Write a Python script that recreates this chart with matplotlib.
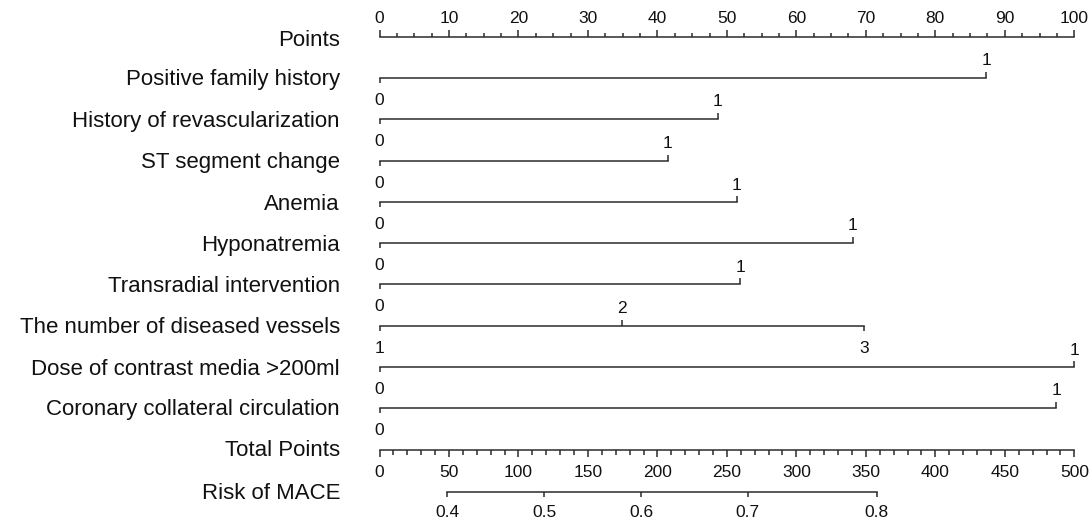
import matplotlib
matplotlib.use("Agg")
import matplotlib.pyplot as plt

plt.rcParams['font.family'] = ['Liberation Sans', 'DejaVu Sans']

# Predictors, their levels and the points
variables = [
    'Positive family history',
    'History of revascularization',
    'ST segment change',
    'Anemia',
    'Hyponatremia',
    'Transradial intervention',
    'The number of diseased vessels',
    'Dose of contrast media >200ml',
    'Coronary collateral circulation',
]
level_labels = [
    ['0', '1'],
    ['0', '1'],
    ['0', '1'],
    ['0', '1'],
    ['0', '1'],
    ['0', '1'],
    ['1', '2', '3'],
    ['0', '1'],
    ['0', '1'],
]
level_points = [
    [0, 87.3],
    [0, 48.7],
    [0, 41.5],
    [0, 51.4],
    [0, 68.1],
    [0, 51.9],
    [0, 34.9, 69.7],
    [0, 100],
    [0, 97.4],
]

points_ticks = list(range(0, 101, 10))
total_ticks = list(range(0, 501, 50))
total_max = 500
risk_labels = ['0.4', '0.5', '0.6', '0.7', '0.8']
risk_total_points = [48.8, 118.6, 188.2, 264.9, 357.8]

# layout (pixel rows, top down)
W, H = 1092, 520
x0_px, x100_px = 379.5, 1074.3
ppx = (x100_px - x0_px) / 100.0
y_points = 37
y_rows = [77.7, 119, 160.7, 202, 243, 284.2, 325.7, 367.3, 407.7]
y_total = 450
y_risk = 491.7
label_x = -(x0_px - 340) / ppx

col = '#2b2b2b'
txt = '#111111'
lw = 1.1
fs_lab = 16
fs_num = 12.5

fig = plt.figure(figsize=(W / 100, H / 100), dpi=100)
ax = fig.add_axes([0, 0, 1, 1])
ax.set_xlim(-x0_px / ppx, (W - x0_px) / ppx)
ax.set_ylim(H, 0)
ax.axis('off')


def row_label(y, text, off=7.5):
    ax.text(label_x, y + off, text, ha='right', va='baseline', fontsize=fs_lab, color=txt)


def tick(x, y, length):
    ax.plot([x, x], [y, y + length], color=col, lw=lw, solid_capstyle='butt')


# Points axis
row_label(y_points, 'Points', off=9)
ax.plot([0, 100], [y_points, y_points], color=col, lw=lw)
for i in range(41):
    v = i * 2.5
    tick(v, y_points, -7 if i % 4 == 0 else -4.5)
for v in points_ticks:
    ax.text(v, y_points - 14, str(v), ha='center', va='baseline', fontsize=fs_num, color=txt)

# Predictor rows
for name, labs, pts, y in zip(variables, level_labels, level_points, y_rows):
    row_label(y, name)
    ax.plot([min(pts), max(pts)], [y, y], color=col, lw=lw)
    for k, (lab, p) in enumerate(zip(labs, pts)):
        if k % 2 == 0:
            tick(p, y, 5)
            ax.text(p, y + 27, lab, ha='center', va='baseline', fontsize=fs_num, color=txt)
        else:
            tick(p, y, -6)
            ax.text(p, y - 12.5, lab, ha='center', va='baseline', fontsize=fs_num, color=txt)

# Total points axis
scale = 100.0 / total_max
row_label(y_total, 'Total Points', off=6.5)
ax.plot([0, 100], [y_total, y_total], color=col, lw=lw)
for i in range(51):
    v = i * 10 * scale
    tick(v, y_total, 7 if i % 5 == 0 else 4.5)
for v in total_ticks:
    ax.text(v * scale, y_total + 27, str(v), ha='center', va='baseline', fontsize=fs_num, color=txt)

# Risk axis
row_label(y_risk, 'Risk of MACE')
rx = [t * scale for t in risk_total_points]
ax.plot([rx[0], rx[-1]], [y_risk, y_risk], color=col, lw=lw)
for lab, x in zip(risk_labels, rx):
    tick(x, y_risk, 5.5)
    ax.text(x, y_risk + 25.5, lab, ha='center', va='baseline', fontsize=fs_num, color=txt)

fig.savefig('out.png', dpi=100)
